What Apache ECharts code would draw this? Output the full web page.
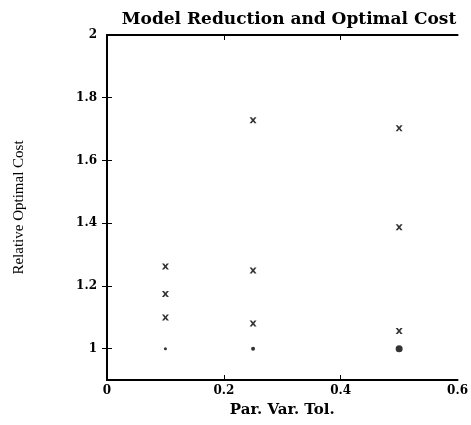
<!DOCTYPE html>
<html>
<head>
<meta charset="utf-8">
<script src="https://cdn.jsdelivr.net/npm/echarts@6/dist/echarts.min.js"></script>
<style>
  html, body { margin: 0; padding: 0; background: #fff; }
  #chart { width: 471px; height: 425px; }
</style>
</head>
<body>
<div id="chart"></div>
<script>
// tolerance values and the relative optimal cost
const tolerances = [0.1, 0.25, 0.5];
const reducedCosts = [
  [1.262, 1.174, 1.099], // tol 0.1
  [1.728, 1.249, 1.080], // tol 0.25
  [1.703, 1.387, 1.056]  // tol 0.5
];
const fullCost = [1, 1, 1];
const dotSizes = [3, 4, 7];
const xTicks = [0, 0.2, 0.4, 0.6];
const yTicks = [1, 1.2, 1.4, 1.6, 1.8, 2];

const crossPts = [];
tolerances.forEach((t, i) => {
  reducedCosts[i].forEach(v => crossPts.push([t, v]));
});
const dotPts = tolerances.map((t, i) => ({ value: [t, fullCost[i]], symbolSize: dotSizes[i] }));

const serif = '"Liberation Serif", "DejaVu Serif", serif';
const wide = '"DejaVu Serif", serif';
const crossPath = 'path://M0,0L3,0L5,3L7,0L10,0L6.6,5L10,10L7,10L5,7L3,10L0,10L3.4,5Z';

const chart = echarts.init(document.getElementById('chart'));

const axisLine = { show: true, lineStyle: { color: '#000', width: 2 } };
const tickStyle = { inside: true, length: 5, lineStyle: { color: '#000', width: 1 } };

chart.setOption({
  animation: false,
  title: {
    text: 'Model Reduction and Optimal Cost',
    left: 284,
    top: 6,
    textAlign: 'center',
    textStyle: { fontFamily: wide, fontSize: 17, fontWeight: 'bold', color: '#000' }
  },
  grid: { left: 107, right: 13, top: 35, bottom: 45 },
  xAxis: [
    {
      type: 'value', min: 0, max: 0.6, interval: 0.2,
      axisLine: axisLine,
      axisTick: Object.assign({}, tickStyle, { customValues: [0.2, 0.4] }),
      axisLabel: {
        customValues: xTicks,
        margin: 5,
        fontFamily: wide, fontSize: 12, fontWeight: 'bold', color: '#000',
        formatter: v => String(v)
      },
      splitLine: { show: false },
      name: 'Par. Var. Tol.',
      nameLocation: 'middle',
      nameGap: 23,
      nameTextStyle: { fontFamily: wide, fontSize: 15, fontWeight: 'bold', color: '#000' }
    },
    {
      type: 'value', min: 0, max: 0.6, position: 'top',
      axisLine: axisLine,
      axisTick: Object.assign({}, tickStyle, { customValues: [0.2, 0.4] }),
      axisLabel: { show: false },
      splitLine: { show: false }
    }
  ],
  yAxis: [
    {
      type: 'value', min: 0.9, max: 2,
      axisLine: axisLine,
      axisTick: Object.assign({}, tickStyle, { customValues: [1, 1.2, 1.4, 1.6, 1.8] }),
      axisLabel: {
        customValues: yTicks,
        margin: 10,
        fontFamily: wide, fontSize: 12, fontWeight: 'bold', color: '#000',
        formatter: v => String(v)
      },
      splitLine: { show: false },
      name: 'Relative Optimal Cost',
      nameLocation: 'middle',
      nameGap: 80,
      nameRotate: 90,
      nameTextStyle: { fontFamily: serif, fontSize: 15, color: '#000' }
    },
    {
      type: 'value', min: 0.9, max: 2, position: 'right',
      axisLine: axisLine,
      axisTick: Object.assign({}, tickStyle, { customValues: [1, 1.2, 1.4, 1.6, 1.8] }),
      axisLabel: { show: false },
      splitLine: { show: false }
    }
  ],
  series: [
    {
      type: 'scatter',
      data: crossPts,
      symbol: crossPath,
      symbolSize: [7, 6],
      itemStyle: { color: '#000' }
    },
    {
      type: 'scatter',
      data: dotPts,
      symbol: 'circle',
      itemStyle: { color: '#000' }
    }
  ]
});
</script>
</body>
</html>
